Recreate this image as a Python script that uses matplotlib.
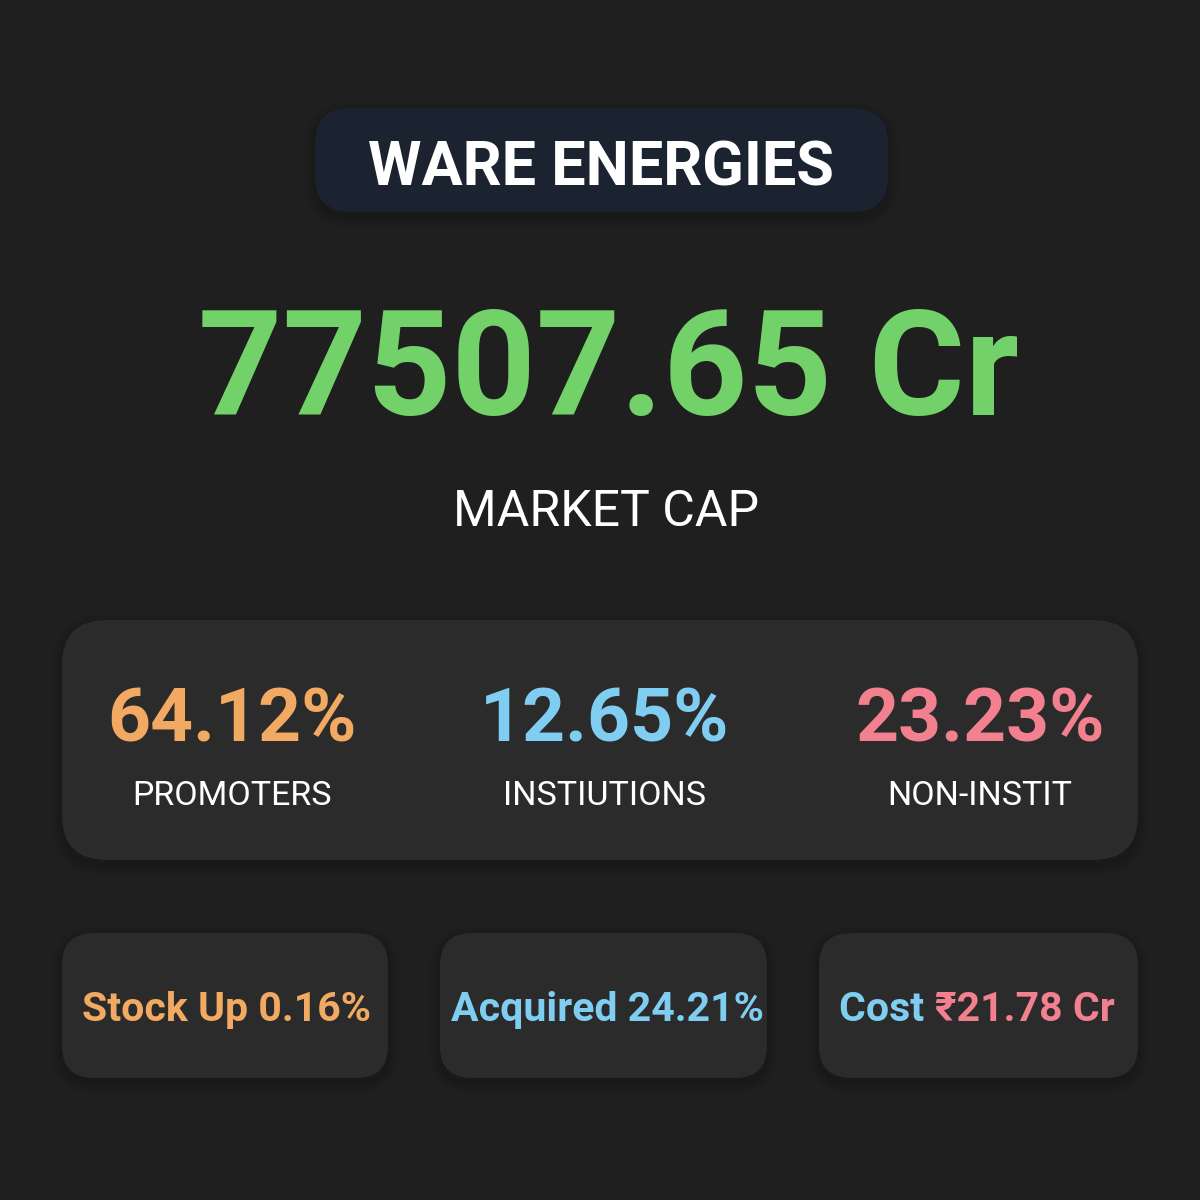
import matplotlib.pyplot as plt
from matplotlib.patches import FancyBboxPatch

plt.rcParams['font.family'] = ['Roboto', 'DejaVu Sans']

company = "WARE ENERGIES"
market_cap = "77507.65 Cr"
market_cap_label = "MARKET CAP"
share_values = ["64.12%", "12.65%", "23.23%"]
share_labels = ["PROMOTERS", "INSTIUTIONS", "NON-INSTIT"]
stock_change = "0.16%"
acquired = "24.21%"
cost = "₹21.78 Cr"

BG = "#1f1f1f"
PANEL = "#2b2b2b"
TITLE_BOX = "#1c2330"
GREEN = "#72d168"
ORANGE = "#f2aa62"
BLUE = "#80cdf2"
PINK = "#f2808f"
share_colors = [ORANGE, BLUE, PINK]


def rounded_box(ax, x0, y0, x1, y1, color, pad):
    # soft shadow first
    for i in range(3):
        s = 6 + i * 7
        ax.add_patch(FancyBboxPatch((x0 - s / 2, y0 - s / 2 + 5), x1 - x0 + s, y1 - y0 + s,
                                    boxstyle=f"round,pad=0,rounding_size={pad + s / 2}",
                                    fc="black", ec="none", alpha=0.045, zorder=1))
    ax.add_patch(FancyBboxPatch((x0, y0), x1 - x0, y1 - y0,
                                boxstyle=f"round,pad=0,rounding_size={pad}",
                                fc=color, ec="none", zorder=2))


def multi_color_text(ax, fig, cx, y, parts, **kw):
    texts = [ax.text(0, y, t, color=c, va="baseline", ha="left", zorder=3, **kw) for t, c in parts]
    renderer = fig.canvas.get_renderer()
    inv = ax.transData.inverted()
    widths = []
    for t in texts:
        bb = t.get_window_extent(renderer)
        (xa, _), (xb, _) = inv.transform([(bb.x0, bb.y0), (bb.x1, bb.y1)])
        widths.append(xb - xa)
    x = cx - sum(widths) / 2
    for t, w in zip(texts, widths):
        t.set_x(x)
        x += w


fig = plt.figure(figsize=(12, 12), dpi=100, facecolor=BG)
ax = fig.add_axes([0, 0, 1, 1])
ax.set_xlim(0, 1200)
ax.set_ylim(1200, 0)
ax.axis("off")
ax.set_facecolor(BG)

# title pill
rounded_box(ax, 315, 108, 888, 212, TITLE_BOX, 36)
ax.text(601, 185, company, color="white", fontsize=44, fontweight="bold",
        ha="center", va="baseline", zorder=3)

# market cap
ax.text(608, 415, market_cap, color=GREEN, fontsize=106, fontweight="bold",
        ha="center", va="baseline", zorder=3)
ax.text(606, 526, market_cap_label, color="white", fontsize=36,
        ha="center", va="baseline", zorder=3)

# shareholding panel
rounded_box(ax, 62, 620, 1138, 860, PANEL, 45)
centers = [232, 605, 980]
for cx, val, lab, col in zip(centers, share_values, share_labels, share_colors):
    ax.text(cx, 742, val, color=col, fontsize=54, fontweight="bold",
            ha="center", va="baseline", zorder=3)
    ax.text(cx, 805, lab, color="white", fontsize=24.5,
            ha="center", va="baseline", zorder=3)

# bottom cards
cards = [(62, 388), (440, 767), (819, 1138)]
for x0, x1 in cards:
    rounded_box(ax, x0, 933, x1, 1078, PANEL, 32)

kw = dict(fontsize=29.5, fontweight="semibold")
fig.canvas.draw()
multi_color_text(ax, fig, 226, 1021, [("Stock Up " + stock_change, ORANGE)], **kw)
multi_color_text(ax, fig, 607, 1021, [("Acquired " + acquired, BLUE)], **kw)
multi_color_text(ax, fig, 977, 1021, [("Cost ", BLUE), (cost, PINK)], **kw)

fig.savefig("out.png", dpi=100, facecolor=BG)
